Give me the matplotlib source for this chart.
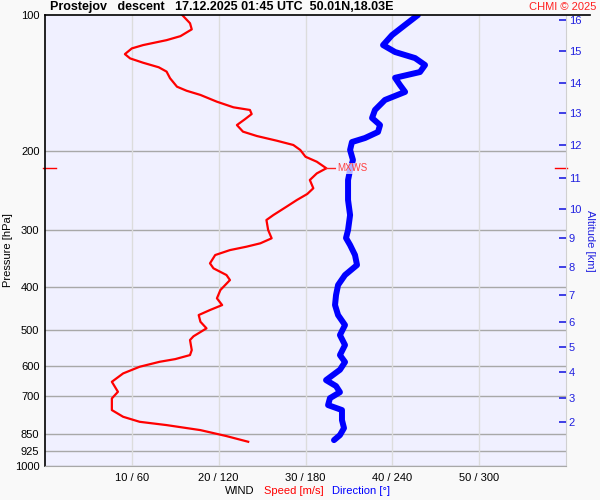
import numpy as np
import matplotlib
matplotlib.use("Agg")
import matplotlib.pyplot as plt
from matplotlib.lines import Line2D

# ---- data ----
speed_p = [100.0, 104.3, 107.6, 111.4, 113.7, 116.6, 118.6, 122.1, 124.8, 127.6,
           130.6, 133.5, 138.1, 144.2, 147.2, 150.4, 155.7, 160.2, 162.4, 165.8,
           170.4, 175.4, 181.4, 185.5, 190.0, 194.2, 199.2, 206.2, 211.5, 218.7,
           224.5, 232.2, 242.2, 249.4, 257.2, 266.2, 277.7, 284.8, 299.8, 312.7,
           320.8, 326.4, 332.1, 340.6, 355.3, 364.5, 377.2, 387.0, 407.2, 424.8,
           439.7, 451.0, 462.7, 478.8, 495.2, 515.7, 525.6, 553.3, 567.6, 579.4,
           587.4, 602.5, 623.3, 650.5, 684.7, 708.2, 751.6, 777.8, 798.0, 811.5,
           832.6, 858.4, 883.6]
speed_ms = [15.8, 16.7, 16.9, 15.6, 14.0, 11.3, 10.0, 9.2, 9.8, 11.3,
            13.1, 14.0, 14.4, 15.2, 16.3, 17.9, 19.8, 21.7, 23.6, 23.8,
            23.0, 22.1, 22.8, 24.4, 26.7, 28.6, 29.4, 30.0, 31.3, 32.4,
            31.3, 30.5, 30.9, 30.2, 29.0, 27.8, 26.3, 25.5, 25.7, 26.1,
            24.8, 23.2, 21.3, 19.6, 19.0, 19.4, 20.9, 21.3, 20.2, 19.8,
            20.4, 19.0, 17.7, 17.9, 18.6, 17.1, 16.7, 16.9, 16.7, 15.0,
            13.2, 10.9, 9.0, 7.7, 8.4, 7.7, 7.7, 9.0, 10.9, 14.0,
            17.9, 20.9, 23.4]

dir_p = [100.0, 105.2, 110.8, 116.6, 120.8, 124.6, 129.1, 133.8, 137.8, 143.0,
         148.1, 154.3, 162.4, 169.2, 175.4, 181.7, 187.4, 191.3, 199.2, 209.7,
         220.7, 232.2, 244.4, 257.2, 277.7, 299.8, 312.2, 323.6, 340.6, 358.4,
         377.2, 397.0, 417.8, 439.7, 462.7, 487.0, 512.5, 539.3, 567.6, 588.2,
         611.8, 645.0, 665.0, 686.0, 707.3, 732.7, 751.6, 791.0, 824.0, 854.0,
         876.2]
dir_deg = [257.7, 248.8, 239.8, 233.6, 241.9, 255.7, 262.6, 259.1, 241.9, 245.3,
           248.8, 234.9, 228.0, 226.0, 231.5, 230.1, 221.1, 212.1, 210.8, 212.8,
           210.8, 209.4, 209.4, 209.4, 210.8, 209.4, 208.0, 210.8, 214.2, 215.6,
           207.3, 202.5, 201.1, 200.4, 202.5, 207.3, 203.8, 207.3, 203.8, 207.3,
           203.8, 194.2, 201.1, 203.8, 196.9, 195.6, 205.2, 205.2, 206.6, 203.8,
           199.7]

p_ticks = [100, 200, 300, 400, 500, 600, 700, 850, 925, 1000]
alt_km = [2, 3, 4, 5, 6, 7, 8, 9, 10, 11, 12, 13, 14, 15, 16]
alt_p = [797, 707, 620, 545, 479.5, 417, 362, 312, 269.5, 230, 194, 165, 141.4, 120.2, 102.6]
x_ticks_speed = [10, 20, 30, 40, 50]
x_tick_labels = ["10 / 60", "20 / 120", "30 / 180", "40 / 240", "50 / 300"]

# ---- figure ----
fig = plt.figure(figsize=(6, 5), dpi=100, facecolor="#f9f9f9")
ax = fig.add_axes([45/600, 1-466/500, 521/600, 451/500])
ax.set_facecolor("#f0f0ff")
ax.set_yscale("log")
ax.set_ylim(1000, 100)
ax.set_xlim(0, 60)

ax.set_yticks(p_ticks)
ax.set_yticklabels([str(v) for v in p_ticks], fontsize=8, family="Liberation Sans")
ax.yaxis.set_minor_locator(matplotlib.ticker.NullLocator())
ax.tick_params(axis="y", length=0, pad=4)
ax.set_xticks(x_ticks_speed)
ax.set_xticklabels(x_tick_labels, fontsize=8, family="Liberation Sans")
ax.tick_params(axis="x", length=0, pad=5)

for p in p_ticks[1:]:
    ax.axhline(p, color="#a8a8a8", lw=1.0, zorder=1)
for s in x_ticks_speed:
    ax.axvline(s, color="#dcdcdc", lw=1.0, zorder=1)

ax.spines["left"].set_color("black")
ax.spines["left"].set_linewidth(1.2)
ax.spines["top"].set_visible(False)
ax.spines["right"].set_color("#d0d0d0")
ax.spines["bottom"].set_color("#a8a8a8")

# direction in speed units (0-360 deg -> 0-60)
dir_scaled = np.array(dir_deg) / 6.0
ax.plot(dir_scaled, dir_p, color="#0000ff", lw=4.3, solid_capstyle="round",
        solid_joinstyle="round", zorder=3)
ax.plot(speed_ms, speed_p, color="#ff0000", lw=1.6, solid_joinstyle="round", zorder=4)

# max wind marker
i = int(np.argmax(speed_ms))
pm = speed_p[i]
sm = speed_ms[i]
ax.plot([sm, sm + 1.0], [pm, pm], color="#ff2020", lw=1.0, zorder=4)
ax.text(sm + 1.2, pm, "MXWS", color="#ff4040", fontsize=7, va="center", ha="left",
        family="Liberation Sans", zorder=5,
        bbox=dict(facecolor="#f0f0ff", edgecolor="none", alpha=0.75, pad=0.5))
tr = ax.get_yaxis_transform()
ax.plot([-0.004, 0.021], [pm, pm], color="#ff0000", lw=1.0, transform=tr, clip_on=False)
ax.plot([0.979, 1.002], [pm, pm], color="#ff0000", lw=1.0, transform=tr, clip_on=False)

# right altitude axis
ax2 = ax.twinx()
ax2.set_yscale("log")
ax2.set_ylim(1000, 100)
ax2.set_yticks(alt_p)
ax2.set_yticklabels([str(a) for a in alt_km], fontsize=8, color="#2020e0", family="Liberation Sans")
ax2.yaxis.set_minor_locator(matplotlib.ticker.NullLocator())
ax2.tick_params(axis="y", direction="in", length=5, color="#2020e0", width=1.2, pad=2)
for sp in ax2.spines.values():
    sp.set_visible(False)
ax2.set_ylabel("Altitude [km]", rotation=-90, color="#2020e0", fontsize=8,
               family="Liberation Sans", labelpad=10)

fig.text(8/600, 1-250/500, "Pressure [hPa]", fontsize=8, family="Liberation Sans",
         rotation=90, ha="center", va="center")

# top black line
fig.add_artist(Line2D([45/600, 590/600], [1-15/500, 1-15/500], color="black", lw=1.2))

# titles
fig.text(50/600, 1-7/500, "Prostejov   descent   17.12.2025 01:45 UTC  50.01N,18.03E",
         fontsize=9, fontweight="bold", family="Liberation Sans", ha="left", va="center")
fig.text(596/600, 1-7/500, "CHMI \u00a9 2025", fontsize=8, color="#ff2020",
         family="Liberation Sans", ha="right", va="center")

# bottom legend
fig.text(225/600, 1-491/500, "WIND", fontsize=8, family="Liberation Sans", ha="left", va="center")
fig.text(264/600, 1-491/500, "Speed [m/s]", fontsize=8, color="#ff0000",
         family="Liberation Sans", ha="left", va="center")
fig.text(332/600, 1-491/500, "Direction [\u00b0]", fontsize=8, color="#0000ff",
         family="Liberation Sans", ha="left", va="center")

fig.savefig("out.png", dpi=100, facecolor=fig.get_facecolor())
